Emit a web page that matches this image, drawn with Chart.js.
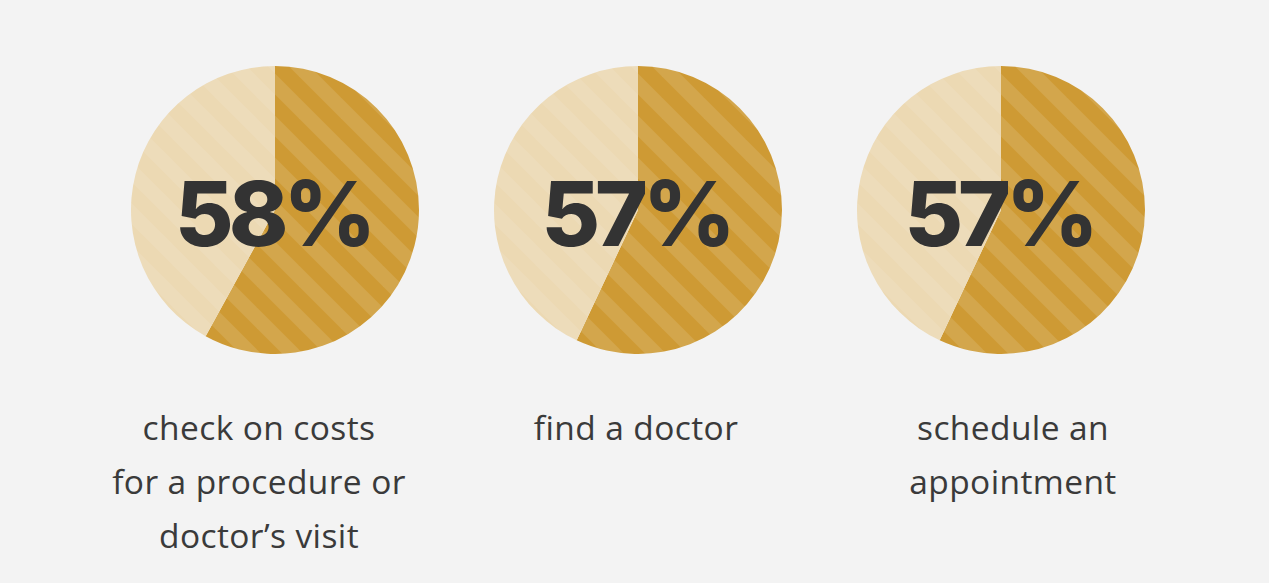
<!DOCTYPE html>
<html>
<head>
<meta charset="utf-8">
<script src="https://cdn.jsdelivr.net/npm/chart.js@4.4.0/dist/chart.umd.min.js"></script>
<style>
    html, body { margin: 0; padding: 0; }
    body {
        width: 1269px;
        height: 583px;
        background: #f3f3f3;
        position: relative;
        overflow: hidden;
        font-family: 'Open Sans', sans-serif;
    }
    .pie {
        position: absolute;
        top: 66px;
    }
    .caption {
        position: absolute;
        top: 400px;
        width: 400px;
        text-align: center;
        font-size: 33.5px;
        line-height: 54px;
        color: #3a3a3a;
        letter-spacing: 0.4px;
    }
</style>
</head>
<body>
<canvas id="pie0" class="pie" width="288" height="288" style="left:131px"></canvas>
<canvas id="pie1" class="pie" width="288" height="288" style="left:494px"></canvas>
<canvas id="pie2" class="pie" width="288" height="288" style="left:857px"></canvas>
<div class="caption" style="left:59px">check on costs<br>for a procedure or<br>doctor’s visit</div>
<div class="caption" style="left:436px">find a doctor</div>
<div class="caption" style="left:813px">schedule an<br>appointment</div>

<script>
// Survey results: share of people who use it to...
const categories = ['check on costs for a procedure or doctor’s visit', 'find a doctor', 'schedule an appointment'];
const percentValues = [58, 57, 57];

/**
 * Build a repeating diagonal stripe pattern
 */
function makeStripes(base, stripe) {
    const size = 42;
    const tile = document.createElement('canvas');
    tile.width = size;
    tile.height = size;
    const t = tile.getContext('2d');
    t.fillStyle = base;
    t.fillRect(0, 0, size, size);
    t.strokeStyle = stripe;
    t.lineWidth = size / (2 * Math.SQRT2);
    for (let k = -1; k <= 1; k++) {
        t.beginPath();
        t.moveTo(k * size - size, -size);
        t.lineTo(k * size + 2 * size, 2 * size);
        t.stroke();
    }
    const ctx = document.createElement('canvas').getContext('2d');
    return ctx.createPattern(tile, 'repeat');
}

const darkFill = makeStripes('#ce9a34', '#d3a64c');
const lightFill = makeStripes('#eddcba', '#ecd9b3');

// Plugin that writes the percentage in the middle of the pie
const centerText = {
    id: 'centerText',
    afterDraw(chart) {
        const ctx = chart.ctx;
        const meta = chart.getDatasetMeta(0).data[0];
        ctx.save();
        ctx.fillStyle = '#333333';
        ctx.font = '800 90px Inter';
        ctx.letterSpacing = '-5px';
        ctx.textAlign = 'center';
        ctx.textBaseline = 'alphabetic';
        ctx.fillText(chart.data.datasets[0].data[0] + '%', meta.x - 2, meta.y + 36);
        ctx.restore();
    }
};

percentValues.forEach(function(value, i) {
    new Chart(document.getElementById('pie' + i), {
        type: 'pie',
        data: {
            labels: [categories[i], 'other'],
            datasets: [{
                data: [value, 100 - value],
                backgroundColor: [darkFill, lightFill],
                borderWidth: 0
            }]
        },
        options: {
            responsive: false,
            animation: false,
            events: [],
            plugins: {
                legend: { display: false },
                tooltip: { enabled: false }
            }
        },
        plugins: [centerText]
    });
});
</script>
</body>
</html>
